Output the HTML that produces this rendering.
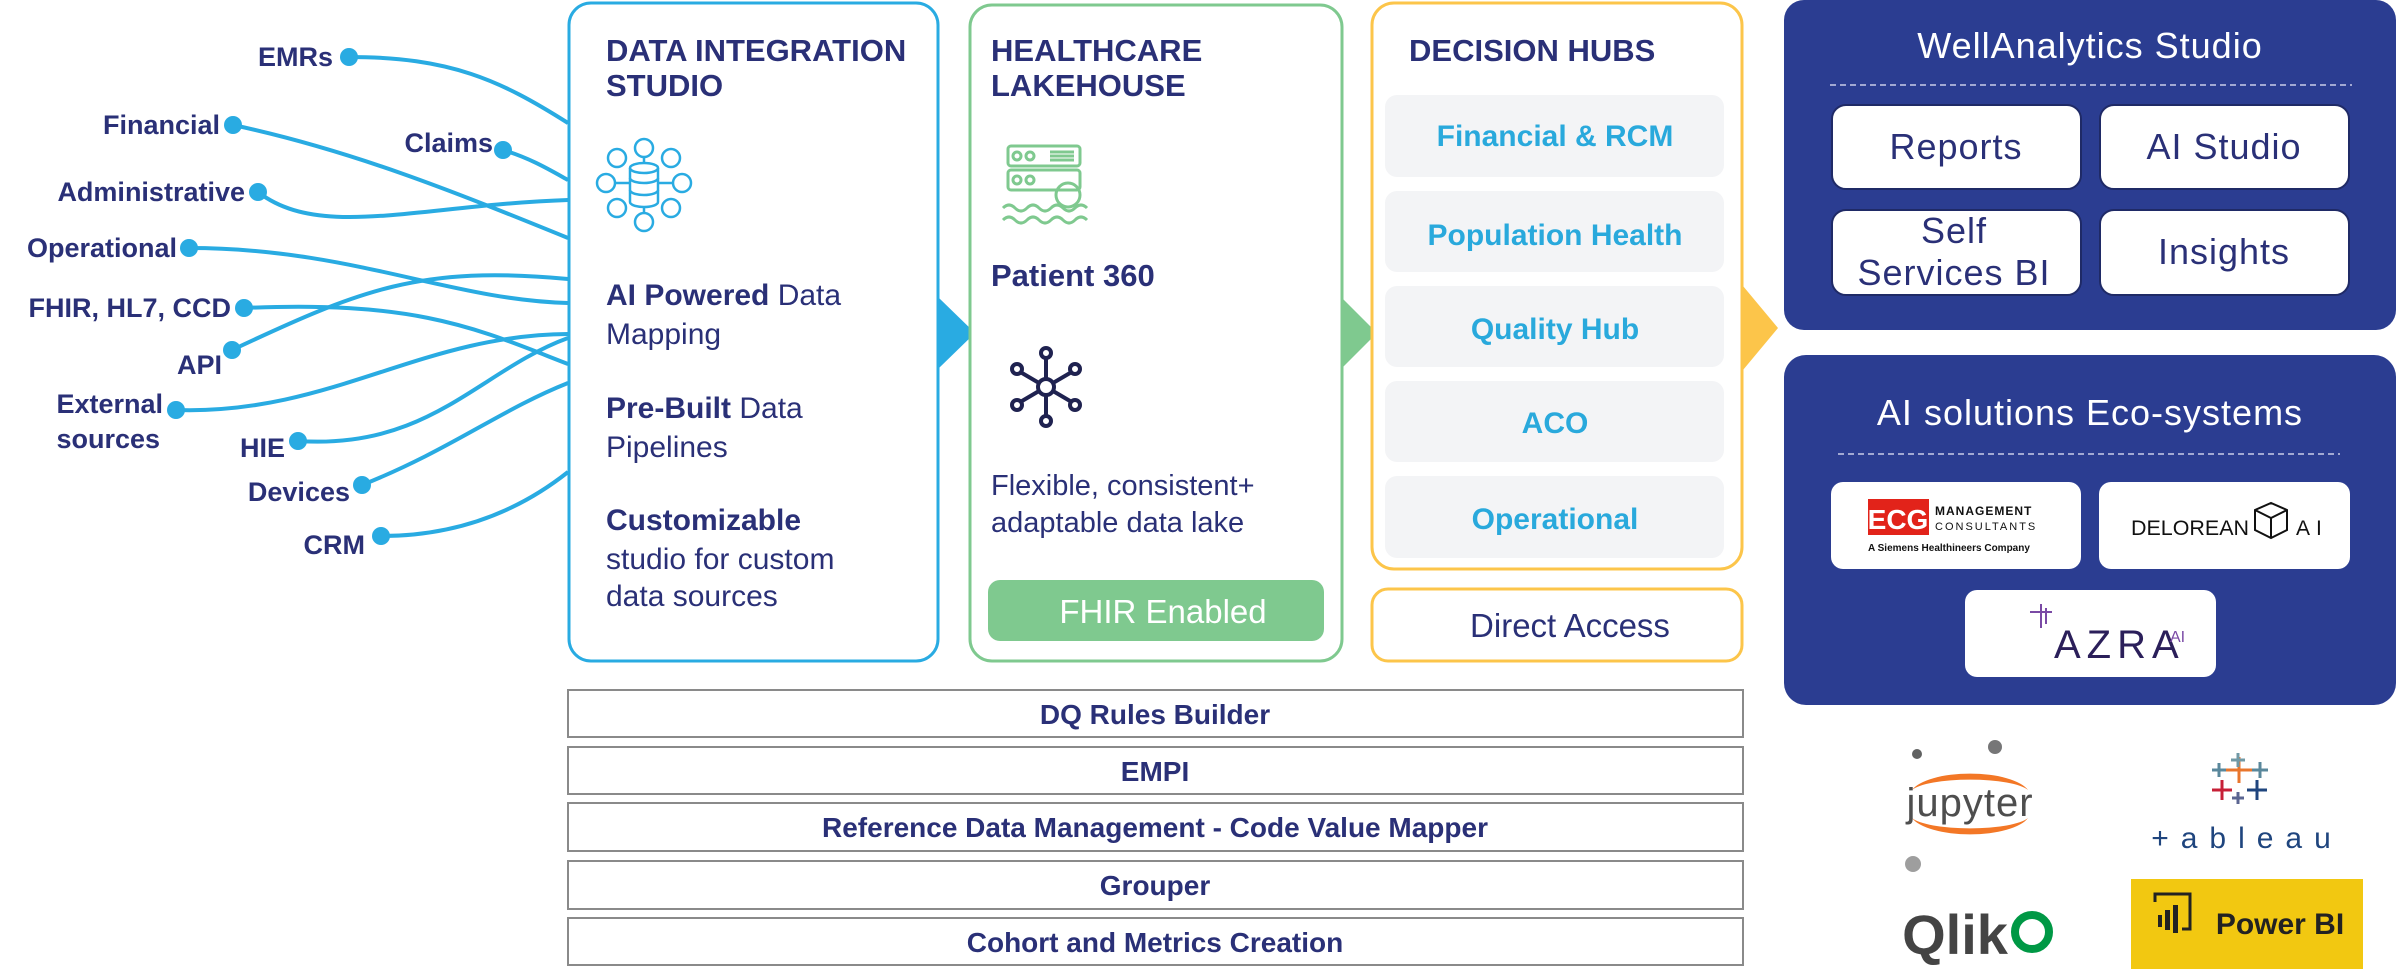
<!DOCTYPE html>
<html><head><meta charset="utf-8"><style>
html,body{margin:0;padding:0;background:#fff;width:2399px;height:969px;overflow:hidden}
svg text{font-family:"Liberation Sans",Arial,sans-serif}
</style></head><body>
<svg width="2399" height="969" viewBox="0 0 2399 969" xmlns="http://www.w3.org/2000/svg">
<g fill="none" stroke="#29abe2" stroke-width="4">
<path d="M349 57 C450 57 500 80 568 123"/>
<path d="M233 125 C350 150 450 190 568 238"/>
<path d="M503 150 C530 158 550 170 568 180"/>
<path d="M258 192 C320 240 420 205 568 200"/>
<path d="M189 248 C350 248 450 300 568 303"/>
<path d="M244 308 C420 300 480 330 568 364"/>
<path d="M232 350 C360 290 420 265 568 279"/>
<path d="M176 410 C330 415 420 335 568 334"/>
<path d="M298 441 C430 450 480 370 568 338"/>
<path d="M362 485 C450 450 500 410 568 383"/>
<path d="M381 536 C460 536 520 510 568 472"/>
</g>
<g fill="#29abe2">
<circle cx="349" cy="57" r="9"/><circle cx="233" cy="125" r="9"/><circle cx="503" cy="150" r="9"/>
<circle cx="258" cy="192" r="9"/><circle cx="189" cy="248" r="9"/><circle cx="244" cy="308" r="9"/>
<circle cx="232" cy="350" r="9"/><circle cx="176" cy="410" r="9"/><circle cx="298" cy="441" r="9"/>
<circle cx="362" cy="485" r="9"/><circle cx="381" cy="536" r="9"/>
</g>
<g fill="#2a3077" font-size="27" font-weight="bold" text-anchor="end">
<text x="333" y="66">EMRs</text>
<text x="220" y="134">Financial</text>
<text x="493" y="152">Claims</text>
<text x="245" y="201">Administrative</text>
<text x="177" y="257">Operational</text>
<text x="231" y="317">FHIR, HL7, CCD</text>
<text x="222" y="374">API</text>
<text x="163" y="413">External</text>
<text x="160" y="448">sources</text>
<text x="285" y="457">HIE</text>
<text x="350" y="501">Devices</text>
<text x="365" y="554">CRM</text>
</g>

<rect x="569" y="3" width="369" height="658" rx="22" fill="#fff" stroke="#29abe2" stroke-width="3"/>
<g fill="#2a3077" font-size="31" font-weight="bold">
<text x="606" y="61">DATA INTEGRATION</text>
<text x="606" y="96">STUDIO</text>
</g>
<g fill="none" stroke="#29abe2" stroke-width="2.5">
<ellipse cx="644" cy="168" rx="14" ry="5"/>
<path d="M630 168 v34 a14 5 0 0 0 28 0 v-34"/>
<path d="M630 178 a14 5 0 0 0 28 0 M630 190 a14 5 0 0 0 28 0"/>
<circle cx="644" cy="148" r="9"/><circle cx="644" cy="222" r="9"/>
<circle cx="606" cy="183" r="9"/><circle cx="682" cy="183" r="9"/>
<circle cx="617" cy="158" r="9"/><circle cx="671" cy="158" r="9"/>
<circle cx="617" cy="208" r="9"/><circle cx="671" cy="208" r="9"/>
<path d="M615 183h15M658 183h15M644 157v6M644 208v5"/>
</g>
<g fill="#2a3077" font-size="30">
<text x="606" y="305"><tspan font-weight="bold">AI Powered</tspan> Data</text>
<text x="606" y="344">Mapping</text>
<text x="606" y="418"><tspan font-weight="bold">Pre-Built</tspan> Data</text>
<text x="606" y="457">Pipelines</text>
<text x="606" y="530" font-weight="bold">Customizable</text>
<text x="606" y="569">studio for custom</text>
<text x="606" y="606">data sources</text>
</g>
<polygon points="939,298 975,333 939,368" fill="#29abe2"/>

<rect x="970" y="5" width="372" height="656" rx="22" fill="#fff" stroke="#7fc98f" stroke-width="3"/>
<g fill="#2a3077" font-size="31" font-weight="bold">
<text x="991" y="61">HEALTHCARE</text>
<text x="991" y="96">LAKEHOUSE</text>
</g>
<g fill="none" stroke="#7fc98f" stroke-width="3">
<rect x="1008" y="146" width="72" height="20" rx="3"/>
<rect x="1008" y="170" width="72" height="20" rx="3"/>
<circle cx="1017" cy="156" r="4"/><circle cx="1030" cy="156" r="4"/>
<circle cx="1017" cy="180" r="4"/><circle cx="1030" cy="180" r="4"/>
<path d="M1050 152h24M1050 156h24M1050 160h24"/>
<circle cx="1068" cy="195" r="12"/>
<path d="M1003 208 q6 -6 12 0 t12 0 t12 0 t12 0 t12 0 t12 0 t12 0 M1003 220 q6 -6 12 0 t12 0 t12 0 t12 0 t12 0 t12 0 t12 0"/>
</g>
<text x="991" y="286" fill="#2a3077" font-size="31" font-weight="bold">Patient 360</text>
<g fill="none" stroke="#1f2250" stroke-width="4">
<circle cx="1046" cy="387" r="8"/>
<path d="M1046 379v-20M1046 395v20M1039 383l-17 -10M1053 383l17 -10M1039 391l-17 10M1053 391l17 10"/>
<circle cx="1046" cy="353" r="5"/><circle cx="1046" cy="421" r="5"/>
<circle cx="1017" cy="369" r="5"/><circle cx="1075" cy="369" r="5"/>
<circle cx="1017" cy="405" r="5"/><circle cx="1075" cy="405" r="5"/>
</g>
<g fill="#2a3077" font-size="29">
<text x="991" y="495">Flexible, consistent+</text>
<text x="991" y="532">adaptable data lake</text>
</g>
<rect x="988" y="580" width="336" height="61" rx="12" fill="#7fc98f"/>
<text x="1163" y="623" fill="#fff" font-size="33" text-anchor="middle">FHIR Enabled</text>
<polygon points="1342,298 1377,333 1342,368" fill="#7fc98f"/>

<rect x="1372" y="3" width="370" height="566" rx="22" fill="#fff" stroke="#fcc54a" stroke-width="3"/>
<text x="1409" y="61" fill="#2a3077" font-size="31" font-weight="bold">DECISION HUBS</text>
<g fill="#f3f4f6">
<rect x="1385" y="95" width="339" height="82" rx="12"/>
<rect x="1385" y="191" width="339" height="81" rx="12"/>
<rect x="1385" y="286" width="339" height="81" rx="12"/>
<rect x="1385" y="381" width="339" height="81" rx="12"/>
<rect x="1385" y="476" width="339" height="82" rx="12"/>
</g>
<g fill="#29a9dc" font-size="30" font-weight="bold" text-anchor="middle">
<text x="1555" y="146">Financial &amp; RCM</text>
<text x="1555" y="245">Population Health</text>
<text x="1555" y="339">Quality Hub</text>
<text x="1555" y="433">ACO</text>
<text x="1555" y="529">Operational</text>
</g>
<rect x="1372" y="589" width="370" height="72" rx="16" fill="#fff" stroke="#fcc54a" stroke-width="3"/>
<text x="1570" y="637" fill="#2a3077" font-size="33" text-anchor="middle">Direct Access</text>
<polygon points="1743,286 1778,328 1743,370" fill="#fcc54a"/>

<rect x="1784" y="0" width="612" height="330" rx="20" fill="#2b3d91"/>
<text x="2090" y="58" fill="#fff" font-size="36" text-anchor="middle" letter-spacing="1">WellAnalytics Studio</text>
<line x1="1830" y1="85" x2="2352" y2="85" stroke="#c9cde8" stroke-width="1.5" stroke-dasharray="6 4"/>
<g fill="#fff" stroke="#1f2a66" stroke-width="2">
<rect x="1832" y="105" width="249" height="84" rx="14"/>
<rect x="2100" y="105" width="249" height="84" rx="14"/>
<rect x="1832" y="210" width="249" height="85" rx="14"/>
<rect x="2100" y="210" width="249" height="85" rx="14"/>
</g>
<g fill="#2a3077" font-size="36" text-anchor="middle" letter-spacing="1">
<text x="1956" y="159">Reports</text>
<text x="2224" y="159">AI Studio</text>
<text x="1954" y="243">Self</text>
<text x="1954" y="285">Services BI</text>
<text x="2224" y="264">Insights</text>
</g>

<rect x="1784" y="355" width="612" height="350" rx="22" fill="#2b3d91"/>
<text x="2090" y="425" fill="#fff" font-size="36" text-anchor="middle" letter-spacing="1">AI solutions Eco-systems</text>
<line x1="1838" y1="454" x2="2340" y2="454" stroke="#c9cde8" stroke-width="1.5" stroke-dasharray="6 4"/>
<g fill="#fff">
<rect x="1831" y="482" width="250" height="87" rx="12"/>
<rect x="2099" y="482" width="251" height="87" rx="12"/>
<rect x="1965" y="590" width="251" height="87" rx="12"/>
</g>
<rect x="1868" y="499" width="61" height="36" fill="#e2231a"/>
<text x="1898" y="529" fill="#fff" font-size="28" text-anchor="middle" font-weight="bold">ECG</text>
<text x="1935" y="515" fill="#111" font-size="12" font-weight="bold" letter-spacing="1">MANAGEMENT</text>
<text x="1935" y="530" fill="#111" font-size="11" letter-spacing="2">CONSULTANTS</text>
<text x="1868" y="551" fill="#111" font-size="10" font-weight="bold">A Siemens Healthineers Company</text>
<text x="2131" y="535" fill="#111" font-size="21" textLength="118" lengthAdjust="spacingAndGlyphs">DELOREAN</text>
<g fill="none" stroke="#111" stroke-width="2"><path d="M2255 510l16 -7 16 7v20l-16 8 -16 -8z M2255 510l16 8 16 -8 M2271 518v20"/></g>
<text x="2296" y="535" fill="#111" font-size="21" letter-spacing="6">AI</text>
<text x="2054" y="658" fill="#2b1f5a" font-size="40" letter-spacing="6">AZRA</text>
<text x="2170" y="642" fill="#7a4aa5" font-size="16">AI</text>
<g stroke="#7a4aa5" stroke-width="2"><path d="M2030 612h22M2041 604v24M2046 608v16"/></g>

<g fill="#f37726"><path d="M1912 790 a60 22 0 0 1 116 0 a60 14 0 0 0 -116 0z"/><path d="M1912 818 a60 22 0 0 0 116 0 a60 14 0 0 1 -116 0z"/></g>
<circle cx="1995" cy="747" r="7" fill="#767677"/><circle cx="1917" cy="754" r="5" fill="#616262"/><circle cx="1913" cy="864" r="8" fill="#9e9e9e"/>
<text x="1970" y="816" fill="#4e4e4e" font-size="40" text-anchor="middle" letter-spacing="1">jupyter</text>
<g stroke-width="3">
<path d="M2226 770h26M2239 757v26" stroke="#e8762d"/>
<path d="M2212 790h20M2222 780v20" stroke="#c72037"/>
<path d="M2247 790h20M2257 780v20" stroke="#1f457e"/>
<path d="M2212 770h14M2219 763v14" stroke="#59879b"/>
<path d="M2252 770h16M2260 762v16" stroke="#59879b"/>
<path d="M2231 760h14M2238 753v14" stroke="#7099a6"/>
<path d="M2232 798h12M2238 792v12" stroke="#5b6591"/>
</g>
<text x="2247" y="848" fill="#1f457e" font-size="30" text-anchor="middle" letter-spacing="12">+ableau</text>
<text x="1955" y="954" fill="#444" font-size="56" font-weight="bold" text-anchor="middle">Qlik</text>
<circle cx="2032" cy="932" r="17" fill="none" stroke="#009845" stroke-width="8"/>
<rect x="2131" y="879" width="232" height="90" fill="#f2c811"/>
<g fill="#222"><rect x="2158" y="915" width="4" height="12"/><rect x="2165" y="910" width="5" height="20"/><rect x="2173" y="905" width="5" height="28"/></g>
<path d="M2155 902v-8h35v35h-8" fill="none" stroke="#222" stroke-width="3"/>
<text x="2280" y="934" fill="#222" font-size="30" font-weight="bold" text-anchor="middle">Power BI</text>

<g fill="#fff" stroke="#8a8a8a" stroke-width="2">
<rect x="568" y="690" width="1175" height="47"/>
<rect x="568" y="747" width="1175" height="47"/>
<rect x="568" y="803" width="1175" height="48"/>
<rect x="568" y="861" width="1175" height="48"/>
<rect x="568" y="918" width="1175" height="47"/>
</g>
<g fill="#2a3077" font-size="28" font-weight="bold" text-anchor="middle">
<text x="1155" y="724">DQ Rules Builder</text>
<text x="1155" y="781">EMPI</text>
<text x="1155" y="837">Reference Data Management - Code Value Mapper</text>
<text x="1155" y="895">Grouper</text>
<text x="1155" y="952">Cohort and Metrics Creation</text>
</g>
</svg>
</body></html>
